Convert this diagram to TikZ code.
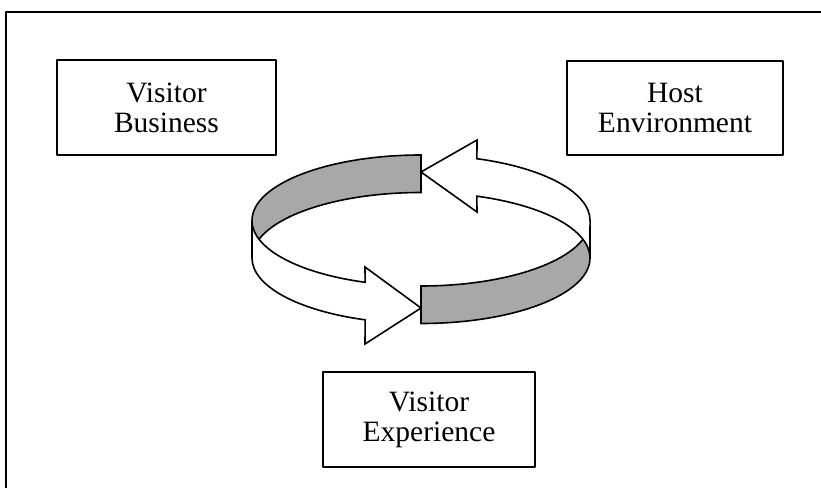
\documentclass[tikz,border=0pt]{standalone}
\usepackage{fontspec}
\setmainfont{Liberation Serif}
\definecolor{bandgray}{gray}{0.66}
\begin{document}
\begin{tikzpicture}[x=1pt,y=1pt,line join=round]
\tikzset{
  box/.style={draw, line width=1.5pt, align=center, inner sep=0pt,
    font=\fontsize{29.5}{30}\selectfont},
  band/.style={draw, line width=1.6pt, line join=miter},
  grayband/.style={band, fill=bandgray},
  whiteband/.style={band, fill=white},
  frameline/.style={draw, line width=2pt},
  ell/.style={x radius=169pt, y radius=65.5pt}
}
\useasboundingbox (0,0) rectangle (821,488);
% outer frame (left and top edges)
\coordinate (fbl) at (6,0);
\coordinate (ftl) at (6,476);
\coordinate (ftr) at (821,476);
\draw[frameline] (fbl) -- (ftl) -- (ftr);

% boxes
\node[box, minimum width=219pt, minimum height=95pt] (vb) at (166.5,380.5) {Visitor\\Business};
\node[box, minimum width=216pt, minimum height=94pt] (he) at (675,380) {Host\\Environment};
\node[box, minimum width=212pt, minimum height=95pt] (ve) at (429,68.5) {Visitor\\Experience};

% ribbon: gray back-left part
\draw[grayband] (421,333) arc[start angle=90, end angle=180, ell]
  -- (252,230) arc[start angle=180, end angle=90, ell] -- cycle;
% ribbon: gray front-right part
\draw[grayband] (421,202) arc[start angle=270, end angle=360, ell]
  -- (590,230) arc[start angle=360, end angle=270, ell] -- cycle;
% white upper arrow (back-right), pointing left
\draw[whiteband] (421,316) -- (477,348) -- (476.9,329.3)
  arc[start angle=70.7, end angle=0, ell]
  -- (590,230) arc[start angle=0, end angle=70.7, ell]
  -- (477,276) -- cycle;
% white lower arrow (front-left), pointing right
\draw[whiteband] (421,180) -- (365,221) -- (365.1,205.7)
  arc[start angle=250.7, end angle=180, ell]
  -- (252,230) arc[start angle=180, end angle=250.7, ell]
  -- (365,144) -- cycle;
\end{tikzpicture}
\end{document}
